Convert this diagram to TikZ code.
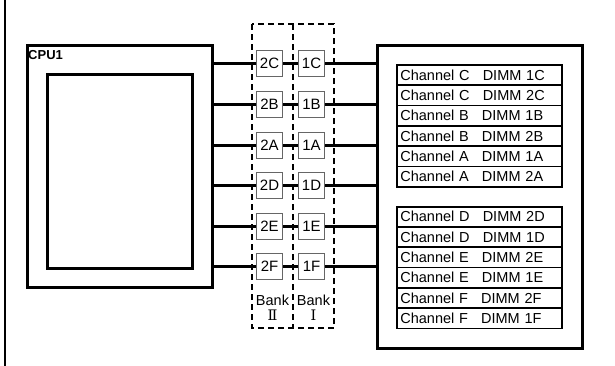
\documentclass[tikz,border=0pt]{standalone}
\usepackage{fontspec}
\setmainfont{Liberation Sans}
\newfontfamily\numfont{DejaVu Serif}
\usetikzlibrary{positioning}

\tikzset{
  frame/.style={draw, line width=2.6pt, inner sep=0pt, anchor=north west},
  slot/.style={draw=black!60, line width=1pt, fill=white, minimum width=26pt,
    minimum height=26pt, inner sep=0pt, font=\fontsize{15}{15}\selectfont},
  bus/.style={line width=3pt},
  bank/.style={line width=2pt, dash pattern=on 6pt off 4pt},
  dimm/.style={draw, line width=1.8pt, anchor=north west, minimum height=20.3pt,
    text width=158pt, inner xsep=3.5pt, inner ysep=0pt, align=left,
    font=\fontsize{14.5}{14.5}\selectfont},
  banklbl/.style={align=center, inner sep=0pt, font=\fontsize{14.5}{15}\selectfont}
}

\begin{document}
\begin{tikzpicture}[x=1pt, y=-1pt]
\useasboundingbox (0,0) rectangle (615,365);

% outer frame edge
\draw[line width=2.4pt] (5,-2) -- (5,367);

% CPU
\node[frame, minimum width=185pt, minimum height=242pt] (cpu) at (26,44) {};
\node[frame, minimum width=145pt, minimum height=194pt] (core) at (46,73) {};
\node[anchor=north west, inner sep=1pt, font=\bfseries\fontsize{13}{13}\selectfont] (cpulbl) at (27,49) {CPU1};

% memory
\node[frame, minimum width=205pt, minimum height=303pt] (mem) at (376,44) {};

% banks
\draw[bank] (252,24) rectangle (334,328);
\draw[bank] (293,24) -- (293,328);
\node[banklbl] (bank2) at (272.5,308) {Bank\\{\numfont Ⅱ}};
\node[banklbl] (bank1) at (313.5,308) {Bank\\{\numfont Ⅰ}};

% slots
\foreach \r/\ch in {63/C,104/B,145/A,185/D,226/E,266/F} {
  \node[slot] (s2\ch) at (269.5,\r) {2\ch};
  \node[slot] (s1\ch) at (311.5,\r) {1\ch};
  \draw[bus] (cpu.east |- s2\ch) -- (s2\ch);
  \draw[bus] (s2\ch) -- (s1\ch);
  \draw[bus] (s1\ch) -- (mem.west |- s1\ch);
}

% DIMM lists
\foreach \cha/\dm [count=\k from 0] in {C/1C,C/2C,B/1B,B/2B,A/1A,A/2A}
  \node[dimm] (ta\k) at (396,{64+20.3*\k}) {Channel \cha\hspace{0.9em}DIMM \dm};
\foreach \cha/\dm [count=\k from 0] in {D/2D,D/1D,E/2E,E/1E,F/2F,F/1F}
  \node[dimm] (tb\k) at (396,{205.7+20.3*\k}) {Channel \cha\hspace{0.9em}DIMM \dm};
\end{tikzpicture}
\end{document}
